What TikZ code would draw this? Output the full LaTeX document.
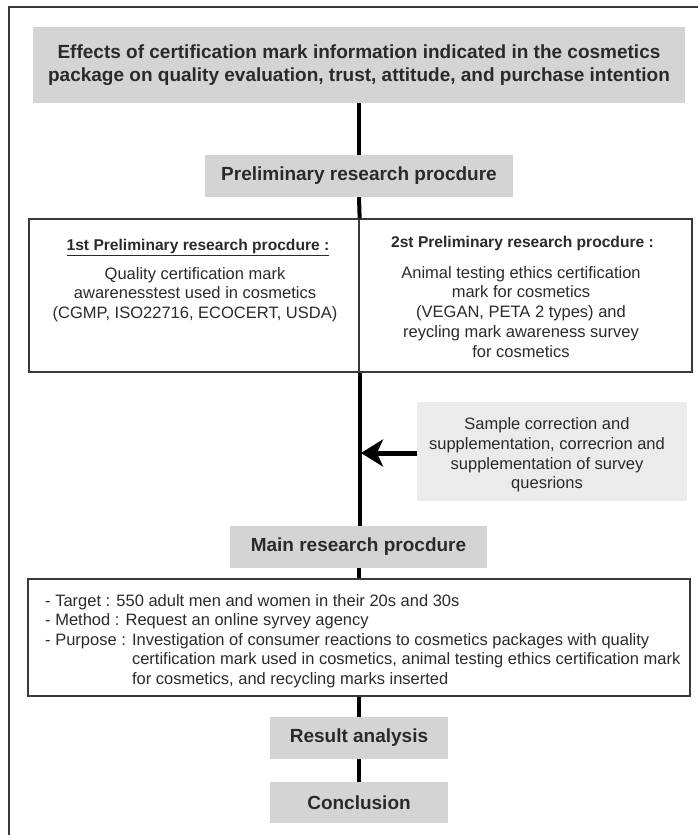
\documentclass[tikz,border=0pt]{standalone}
\usepackage{fontspec}
\setmainfont{Liberation Sans}
\usetikzlibrary{arrows.meta}
\definecolor{boxgray}{HTML}{D4D4D4}
\definecolor{lightgray2}{HTML}{EBEBEB}
\definecolor{bordergray}{HTML}{3A3A3A}
\definecolor{textgray}{HTML}{2A2A2A}
\begin{document}
\begin{tikzpicture}[x=1pt,y=-1pt,
  gbox/.style={fill=boxgray, inner sep=0pt, align=center, text=textgray, font=\fontsize{19}{23}\selectfont\bfseries},
  panel/.style={draw=bordergray, line width=1.3pt, inner sep=0pt},
  ptext/.style={align=center, inner sep=0pt, text=textgray, font=\fontsize{16.5}{19.8}\selectfont},
  hdr/.style={font=\fontsize{15.6}{19}\selectfont\bfseries},
  spine/.style={line width=4pt, black},
  arrowline/.style={line width=5pt, black, -{Stealth[length=22pt,width=27pt,inset=6pt]}}
]
\useasboundingbox (0,0) rectangle (698,835);
% outer frame
\draw[line width=1.2pt, bordergray] (9,835) -- (9,7) -- (698,7);

\node[gbox, minimum width=652pt, minimum height=76pt] (title) at (359,65)
  {Effects of certification mark information indicated in the cosmetics\\package on quality evaluation, trust, attitude, and purchase intention};
\node[gbox, minimum width=308pt, minimum height=42pt] (prelim) at (359,176) {Preliminary research procdure};

\node[panel, minimum width=330pt, minimum height=153pt] (p1) at (194,295.5) {};
\node[panel, minimum width=333pt, minimum height=153pt] (p2) at (525.5,295.5) {};
\node[ptext, hdr, anchor=north] (p1h) at (198,239)
  {\underline{1st Preliminary research procdure :}};
\node[ptext, anchor=north] (p1t) at (195,267)
  {Quality certification mark\\awarenesstest used in cosmetics\\(CGMP, ISO22716, ECOCERT, USDA)};
\node[ptext, hdr, anchor=north] (p2h) at (522.5,236)
  {2st Preliminary research procdure :};
\node[ptext, anchor=north] (p2t) at (521,266)
  {Animal testing ethics certification\\mark for cosmetics\\(VEGAN, PETA 2 types) and\\reycling mark awareness survey\\for cosmetics};

\node[fill=lightgray2, inner sep=0pt, minimum width=270pt, minimum height=99pt] (side) at (552,451.5) {};
\node[ptext] (sidet) at (547,455)
  {Sample correction and\\supplementation, correcrion and\\supplementation of survey\\quesrions};

\node[gbox, minimum width=257pt, minimum height=42pt] (main) at (358.5,547) {Main research procdure};

\node[panel, minimum width=662pt, minimum height=117pt] (content) at (359,637.5) {};
\node[ptext, align=left, anchor=north west, font=\fontsize{16.5}{19.6}\selectfont] (ctext) at (45,594)
  {- Target : 550 adult men and women in their 20s and 30s\\
   - Method : Request an online syrvey agency\\
   - Purpose : Investigation of consumer reactions to cosmetics packages with quality\\
   \phantom{- Purpose : }certification mark used in cosmetics, animal testing ethics certification mark\\
   \phantom{- Purpose : }for cosmetics, and recycling marks inserted};

\node[gbox, minimum width=178pt, minimum height=42pt] (result) at (359,738) {Result analysis};
\node[gbox, minimum width=178pt, minimum height=41pt] (concl) at (359,802.5) {Conclusion};

% spine
\draw[spine] (title.south) -- (prelim.north);
\draw[spine] (prelim.south) -- (p1.north east);
\draw[spine] (p1.south east) -- (main.north -| p1.south east);
\draw[spine] (main.south -| content.north) -- (content.north);
\draw[spine] (content.south) -- (result.north);
\draw[spine] (result.south) -- (concl.north);
\coordinate (arrowtip) at (361,453);
\draw[arrowline] (side.west |- arrowtip) -- (arrowtip);
\end{tikzpicture}
\end{document}
